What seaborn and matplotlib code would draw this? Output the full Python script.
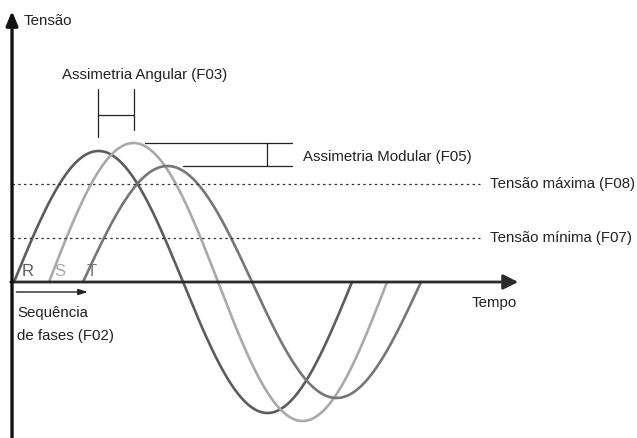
import matplotlib
matplotlib.use("Agg")
import matplotlib.pyplot as plt
from matplotlib import font_manager as fm
import numpy as np
import pandas as pd
import seaborn as sns

# phases R, S, T: start angle (deg) and peak amplitude (arbitrary units)
phases = ["R", "S", "T"]
phase_start = [0.0, 37.3, 73.5]
phase_amplitude = [131, 139, 116]
phase_colors = ["#5c5c5c", "#a9a9a9", "#767676"]
label_offset = [8.0, 5.5, 4.0]

v_max = 98  # Tensão máxima (F08)
v_min = 44  # Tensão mínima (F07)

INK = "#222222"


def has_font(name):
    try:
        fm.findfont(fm.FontProperties(family=name), fallback_to_default=False)
        return True
    except ValueError:
        return False


TEXT_FONT = next(f for f in ["Liberation Sans Narrow", "Liberation Sans", "DejaVu Sans"] if has_font(f))

sns.set_style("white")
plt.rcParams["font.family"] = [TEXT_FONT, "DejaVu Sans"]

rows = []
for name, start, amp in zip(phases, phase_start, phase_amplitude):
    deg = np.linspace(0, 360, 361)
    rows.append(pd.DataFrame({"fase": name, "t": start + deg, "v": amp * np.sin(np.radians(deg))}))
df = pd.concat(rows, ignore_index=True)

fig = plt.figure(figsize=(6.37, 4.38), dpi=100)
ax = fig.add_axes([0, 0, 1, 1])
ax.set_xlim(-14.9, 663.5)
ax.set_ylim(-156, 282)
ax.axis("off")

# scale the font so the widest label spans like in the reference
probe = fig.text(0, 0, "Tensão máxima (F08)", fontsize=10)
w = probe.get_window_extent(renderer=fig.canvas.get_renderer()).width
probe.remove()
fs = 10 * 146 / w

sns.lineplot(data=df, x="t", y="v", hue="fase", palette=phase_colors, sort=False,
             linewidth=1.9, legend=False, ax=ax, estimator=None)

# axes with arrows
ax.annotate("", xy=(537, 0), xytext=(-3.5, 0),
            arrowprops=dict(arrowstyle="-|>,head_length=0.9,head_width=0.45", color="#2a2a2a", lw=2.0,
                            shrinkA=0, shrinkB=0))
ax.annotate("", xy=(-2.1, 271), xytext=(-2.1, -160),
            arrowprops=dict(arrowstyle="-|>,head_length=0.85,head_width=0.35", color="#111111", lw=2.4,
                            shrinkA=0, shrinkB=0))
ax.text(10, 261, "Tensão", fontsize=fs, va="center", ha="left", color=INK)
ax.text(511.8, -21, "Tempo", fontsize=fs, va="center", ha="center", color=INK)

# limits
ax.plot([-2, 496], [v_max, v_max], color="#333333", lw=0.9, ls=(0, (2.0, 2.6)))
ax.plot([-2, 496], [v_min, v_min], color="#333333", lw=0.9, ls=(0, (2.0, 2.6)))
ax.text(507, v_max, "Tensão máxima (F08)", fontsize=fs, va="center", ha="left", color=INK)
ax.text(507, v_min, "Tensão mínima (F07)", fontsize=fs, va="center", ha="left", color=INK)

# angular asymmetry bracket (between R and S peaks)
pk_r = phase_start[0] + 90
pk_s = phase_start[1] + 90
ax.plot([pk_r, pk_r], [145, 193], color=INK, lw=0.9)
ax.plot([pk_s, pk_s], [152, 193], color=INK, lw=0.9)
ax.plot([pk_r, pk_s], [167, 167], color=INK, lw=0.9)
ax.text(139.5, 207, "Assimetria Angular (F03)", fontsize=fs, va="center", ha="center", color=INK)

# modular asymmetry bracket (between S and T peaks)
amp_s = phase_amplitude[1]
amp_t = phase_amplitude[2]
ax.plot([139.5, 296], [amp_s, amp_s], color=INK, lw=0.9)
ax.plot([180, 296], [amp_t, amp_t], color=INK, lw=0.9)
ax.plot([269.5, 269.5], [amp_t, amp_s], color=INK, lw=0.9)
ax.text(307.8, 125, "Assimetria Modular (F05)", fontsize=fs, va="center", ha="left", color=INK)

# phase labels
for name, start, off, col in zip(phases, phase_start, label_offset, phase_colors):
    ax.text(start + off, 10, name, fontsize=12, va="center", ha="left", color=col,
            family=["Liberation Sans", "DejaVu Sans"])

# phase sequence arrow
ax.annotate("", xy=(78.5, -10), xytext=(2.5, -10),
            arrowprops=dict(arrowstyle="-|>,head_length=0.55,head_width=0.18", color=INK, lw=1.0,
                            shrinkA=0, shrinkB=0))
ax.text(3.2, -24, "Sequência\nde fases (F02)", fontsize=fs, va="top", ha="left", color=INK,
        linespacing=1.85)

fig.savefig("out.png", dpi=100, facecolor="white")
